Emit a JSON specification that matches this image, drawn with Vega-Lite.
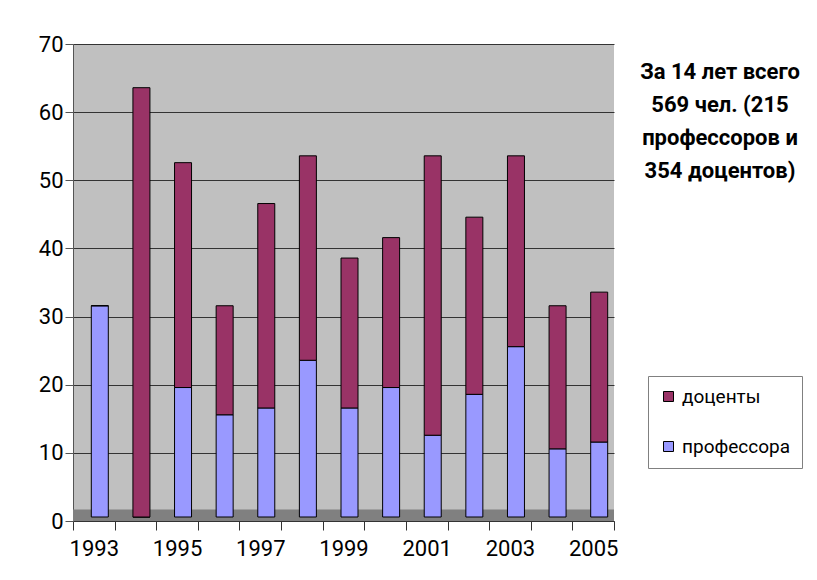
{
  "$schema": "https://vega.github.io/schema/vega-lite/v6.json",
  "width": 541,
  "height": 477,
  "autosize": {"type": "none"},
  "padding": {"left": 73, "top": 44, "right": 203, "bottom": 59},
  "background": "white",
  "config": {
    "font": "Roboto",
    "view": {"fill": "#C0C0C0", "stroke": null}
  },
  "title": {
    "text": ["За 14 лет всего", "569 чел. (215", "профессоров и", "354 доцентов)"],
    "orient": "top",
    "anchor": "end",
    "frame": "group",
    "align": "center",
    "baseline": "top",
    "fontSize": 22,
    "fontWeight": "bold",
    "lineHeight": 33,
    "color": "black",
    "offset": 0,
    "dx": 106,
    "dy": 150
  },
  "data": {
    "values": [
      {"year": 1993, "group": "профессора", "count": 31},
      {"year": 1993, "group": "доценты", "count": 0},
      {"year": 1994, "group": "профессора", "count": 0},
      {"year": 1994, "group": "доценты", "count": 63},
      {"year": 1995, "group": "профессора", "count": 19},
      {"year": 1995, "group": "доценты", "count": 33},
      {"year": 1996, "group": "профессора", "count": 15},
      {"year": 1996, "group": "доценты", "count": 16},
      {"year": 1997, "group": "профессора", "count": 16},
      {"year": 1997, "group": "доценты", "count": 30},
      {"year": 1998, "group": "профессора", "count": 23},
      {"year": 1998, "group": "доценты", "count": 30},
      {"year": 1999, "group": "профессора", "count": 16},
      {"year": 1999, "group": "доценты", "count": 22},
      {"year": 2000, "group": "профессора", "count": 19},
      {"year": 2000, "group": "доценты", "count": 22},
      {"year": 2001, "group": "профессора", "count": 12},
      {"year": 2001, "group": "доценты", "count": 41},
      {"year": 2002, "group": "профессора", "count": 18},
      {"year": 2002, "group": "доценты", "count": 26},
      {"year": 2003, "group": "профессора", "count": 25},
      {"year": 2003, "group": "доценты", "count": 28},
      {"year": 2004, "group": "профессора", "count": 10},
      {"year": 2004, "group": "доценты", "count": 21},
      {"year": 2005, "group": "профессора", "count": 11},
      {"year": 2005, "group": "доценты", "count": 22}
    ]
  },
  "layer": [
    {
      "data": {"values": [{}]},
      "mark": {"type": "rect", "color": "#808080"},
      "encoding": {
        "y": {"datum": 0, "type": "quantitative"},
        "y2": {"datum": 1.7}
      }
    },
    {
      "mark": {
        "type": "bar",
        "width": 17,
        "stroke": "black",
        "strokeWidth": 1,
        "xOffset": 6,
        "x2Offset": 6,
        "yOffset": -4,
        "y2Offset": -4
      },
      "encoding": {
        "x": {
          "field": "year",
          "type": "ordinal",
          "scale": {"paddingInner": 0, "paddingOuter": 0},
          "axis": {
            "title": null,
            "labelAngle": 0,
            "tickBand": "extent",
            "labelExpr": "datum.value % 2 == 1 ? datum.label : ''",
            "tickSize": 9,
            "labelPadding": 8,
            "labelFontSize": 22,
            "labelFont": "Roboto",
            "labelColor": "black",
            "domainColor": "#333333",
            "tickColor": "#333333",
            "grid": false
          }
        },
        "y": {
          "field": "count",
          "type": "quantitative",
          "stack": "zero",
          "scale": {"domain": [0, 70], "nice": false},
          "axis": {
            "title": null,
            "values": [0, 10, 20, 30, 40, 50, 60, 70],
            "tickSize": 8,
            "labelPadding": 2,
            "labelFontSize": 22,
            "labelFont": "Roboto",
            "labelColor": "black",
            "domainColor": "#555555",
            "tickColor": "#555555",
            "grid": true,
            "gridColor": "#333333",
            "gridWidth": 1
          }
        },
        "color": {
          "field": "group",
          "type": "nominal",
          "scale": {"domain": ["доценты", "профессора"], "range": ["#993366", "#9999FF"]},
          "legend": {
            "orient": "none",
            "legendX": 575,
            "legendY": 332,
            "title": null,
            "symbolType": "square",
            "symbolSize": 100,
            "symbolStrokeColor": "black",
            "symbolStrokeWidth": 1,
            "symbolOpacity": 1,
            "labelFontSize": 19,
            "labelFont": "Roboto",
            "labelColor": "black",
            "rowPadding": 30,
            "padding": 11,
            "fillColor": "white",
            "strokeColor": "#808080"
          }
        },
        "order": {"field": "group", "sort": "descending"}
      }
    }
  ]
}
